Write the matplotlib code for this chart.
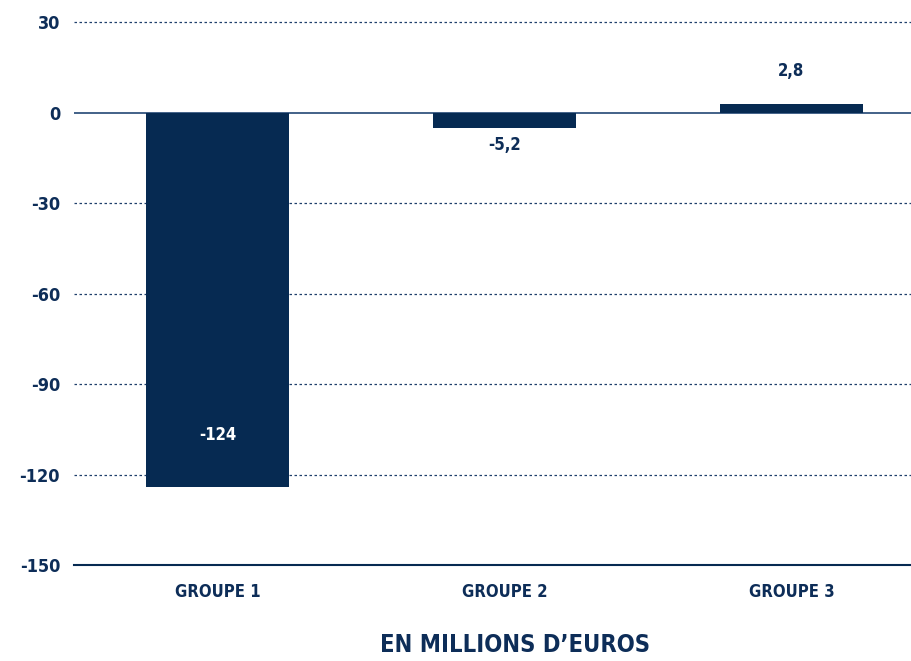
import matplotlib
matplotlib.use("Agg")
import matplotlib.pyplot as plt

# values in millions of euros
groupes = ["GROUPE 1", "GROUPE 2", "GROUPE 3"]
valeurs = [-124, -5.2, 2.8]
etiquettes = ["-124", "-5,2", "2,8"]
yticks = [30, 0, -30, -60, -90, -120, -150]

navy = "#062a52"
txt = "#0d2d58"
font = ["DejaVu Sans"]

fig = plt.figure(figsize=(9.12, 6.61), dpi=100)
ax = fig.add_axes([74 / 912, 96 / 661, 1 - 74 / 912, (661 - 96 - 19) / 661])

x = range(len(groupes))
ax.bar(x, valeurs, width=0.5, color=navy, zorder=3)

ax.set_xlim(-0.5, 2.42)
ax.set_ylim(-150, 31)

# dotted gridlines, solid lines at 0 and at the bottom
for t in yticks:
    if t in (0, -150):
        continue
    ax.axhline(t, color="#1f3f6b", linestyle=(0, (2, 2)), linewidth=0.9, zorder=1)
ax.axhline(0, color="#34557f", linewidth=1.3, zorder=2)
ax.axhline(-150, color=navy, linewidth=1.5, zorder=2, clip_on=False)

for s in ax.spines.values():
    s.set_visible(False)

kw = dict(family=font, fontweight="bold", stretch="condensed")
ax.set_yticks(yticks)
ax.set_yticklabels([str(t) for t in yticks], fontsize=13, color=txt, **kw)
ax.set_xticks(list(x))
ax.set_xticklabels(groupes, fontsize=12, color=txt, **kw)
ax.tick_params(axis="y", length=0, pad=10)
ax.tick_params(axis="x", length=0, pad=13)

for i, (v, lab) in enumerate(zip(valeurs, etiquettes)):
    if v < -50:
        ax.annotate(lab, (i, v), xytext=(0, 37), textcoords="offset points",
                    ha="center", va="center", color="white", fontsize=12,
                    zorder=4, **kw)
    elif v < 0:
        ax.annotate(lab, (i, v), xytext=(0, -12), textcoords="offset points",
                    ha="center", va="center", color=txt, fontsize=12,
                    zorder=4, **kw)
    else:
        ax.annotate(lab, (i, v), xytext=(0, 24), textcoords="offset points",
                    ha="center", va="center", color=txt, fontsize=12,
                    zorder=4, **kw)

fig.text(515 / 912, 16 / 661, "EN MILLIONS D\u2019EUROS", ha="center", va="center",
         fontsize=17, color=txt, **kw)

fig.savefig("out.png", dpi=100)
